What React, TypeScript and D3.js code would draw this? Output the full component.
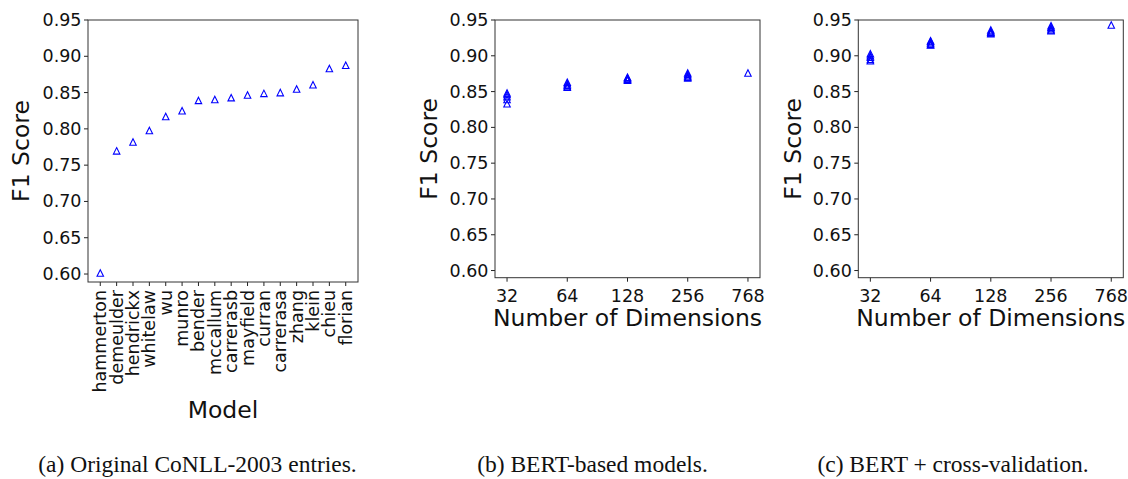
import React from "react";
import * as d3 from "d3";

const models = ["hammerton","demeulder","hendrickx","whitelaw","wu","munro","bender","mccallum","carrerasb","mayfield","curran","carrerasa","zhang","klein","chieu","florian"];
const modelScores = [0.6015,0.7697,0.782,0.7978,0.817,0.825,0.8392,0.8404,0.843,0.8467,0.8489,0.850,0.855,0.8607,0.8831,0.8876];

const dims = ["32","64","128","256","768"];
const bertScores = [
  [0.848, 0.846, 0.843, 0.839, 0.833],
  [0.863, 0.861, 0.859, 0.857, 0.856],
  [0.870, 0.869, 0.868, 0.867, 0.866],
  [0.876, 0.874, 0.872, 0.870, 0.869],
  [0.876],
];
const cvScores = [
  [0.903, 0.900, 0.898, 0.895, 0.893],
  [0.921, 0.920, 0.918, 0.916, 0.915],
  [0.936, 0.934, 0.933, 0.932, 0.931],
  [0.942, 0.940, 0.938, 0.936, 0.935],
  [0.943],
];
const yTicks = [0.6, 0.65, 0.7, 0.75, 0.8, 0.85, 0.9, 0.95];
const captions = ["(a) Original CoNLL-2003 entries.", "(b) BERT-based models.", "(c) BERT + cross-validation."];

const FONT = "DejaVu Sans, sans-serif";
const TICK_FS = 17.5;
const LABEL_FS = 23.5;
const BLUE = "#0000ff";
const tri = (s: number) => `M0,${-s / 2}L${s / 2},${s / 2}L${-s / 2},${s / 2}Z`;

function YAxis({ y, x0, labelX, top, bottom }: any) {
  return (
    <g>
      {yTicks.map((t) => (
        <g key={t}>
          <line x1={x0 - 4} x2={x0} y1={y(t)} y2={y(t)} stroke="#222" strokeWidth={1} />
          <text x={x0 - 6.5} y={y(t)} textAnchor="end" dominantBaseline="central" fontSize={TICK_FS} fontFamily={FONT} fill="#111">
            {t.toFixed(2)}
          </text>
        </g>
      ))}
      <text transform={`translate(${labelX},${(top + bottom) / 2}) rotate(-90)`} textAnchor="middle" dominantBaseline="central" fontSize={LABEL_FS} fontFamily={FONT} fill="#111">
        F1 Score
      </text>
    </g>
  );
}

function DimPanel({ left, right, labelX, scores }: any) {
  const top = 20, bottom = 277.7;
  const x = d3.scalePoint<string>().domain(dims).range([left, right]).padding(0.2);
  const y = d3.scaleLinear().domain([0.59, 0.95]).range([bottom, top]);
  return (
    <g>
      <YAxis y={y} x0={left} labelX={labelX} top={top} bottom={bottom} />
      {dims.map((d) => (
        <g key={d}>
          <line x1={x(d)} x2={x(d)} y1={bottom} y2={bottom + 4} stroke="#222" strokeWidth={1} />
          <text x={x(d)} y={bottom + 24} textAnchor="middle" fontSize={TICK_FS} fontFamily={FONT} fill="#111">{d}</text>
        </g>
      ))}
      {dims.map((d, i) =>
        scores[i].map((v: number, j: number) => (
          <path key={d + "-" + j} d={tri(6.5)} transform={`translate(${x(d)},${y(v)})`} fill="none" stroke={BLUE} strokeWidth={1.1} />
        ))
      )}
      <rect x={left} y={top} width={right - left} height={bottom - top} fill="none" stroke="#333" strokeWidth={1} />
      <text x={(left + right) / 2} y={326} textAnchor="middle" fontSize={LABEL_FS} fontFamily={FONT} fill="#111">Number of Dimensions</text>
    </g>
  );
}

function ModelPanel() {
  const left = 88, right = 358, top = 20, bottom = 282;
  const x = d3.scalePoint<string>().domain(models).range([left, right]).padding(0.75);
  const y = d3.scaleLinear().domain([0.589, 0.95]).range([bottom, top]);
  return (
    <g>
      <YAxis y={y} x0={left} labelX={21} top={top} bottom={bottom} />
      {models.map((m) => (
        <g key={m}>
          <line x1={x(m)} x2={x(m)} y1={bottom} y2={bottom + 4} stroke="#222" strokeWidth={1} />
          <text transform={`translate(${x(m)},${bottom + 8}) rotate(-90)`} textAnchor="end" dominantBaseline="central" fontSize={TICK_FS} fontFamily={FONT} fill="#111">{m}</text>
        </g>
      ))}
      {models.map((m, i) => (
        <path key={m} d={tri(6.5)} transform={`translate(${x(m)},${y(modelScores[i])})`} fill="none" stroke={BLUE} strokeWidth={1.1} />
      ))}
      <rect x={left} y={top} width={right - left} height={bottom - top} fill="none" stroke="#333" strokeWidth={1} />
      <text x={(left + right) / 2} y={418} textAnchor="middle" fontSize={LABEL_FS} fontFamily={FONT} fill="#111">Model</text>
    </g>
  );
}

export default function App() {
  const capX = [197.5, 592.5, 953];
  return (
    <div style={{ position: "absolute", left: 0, top: 0 }}>
      <svg width={1128} height={479} style={{ display: "block", background: "#fff" }}>
        <ModelPanel />
        <DimPanel left={495} right={760} labelX={429} scores={bertScores} />
        <DimPanel left={858.3} right={1123.3} labelX={792.5} scores={cvScores} />
        {captions.map((c, i) => (
          <text key={c} x={capX[i]} y={472} textAnchor="middle" fontSize={23.5} fontFamily="Liberation Serif, Times New Roman, serif" fill="#111">{c}</text>
        ))}
      </svg>
    </div>
  );
}
